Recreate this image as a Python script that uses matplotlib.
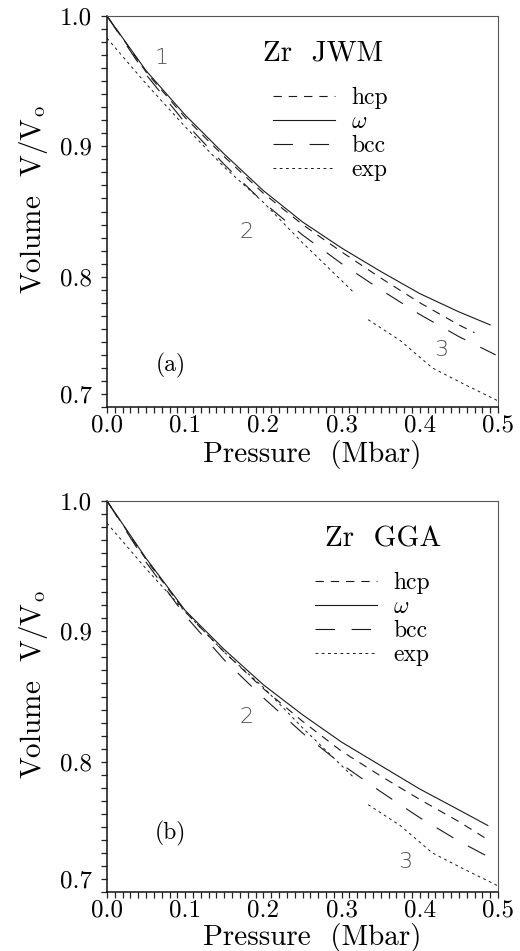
import numpy as np
import matplotlib
matplotlib.use('Agg')
import matplotlib.pyplot as plt

plt.rcParams['font.family'] = 'serif'
plt.rcParams['font.serif'] = ['cmr10', 'DejaVu Serif']
plt.rcParams['mathtext.fontset'] = 'cm'
plt.rcParams['axes.formatter.use_mathtext'] = True
plt.rcParams['lines.scale_dashes'] = False

# --- data (pressure in Mbar, V/V0) ---
# panel (a): JWM
p_omega_a = [0, 0.05, 0.1, 0.15, 0.2, 0.25, 0.3, 0.35, 0.4, 0.45, 0.49]
v_omega_a = [1.0, 0.958, 0.924, 0.894, 0.866, 0.842, 0.822, 0.804, 0.787, 0.773, 0.763]
p_hcp_a = [0, 0.05, 0.1, 0.15, 0.2, 0.25, 0.3, 0.35, 0.4, 0.45, 0.47]
v_hcp_a = [1.0, 0.957, 0.922, 0.892, 0.864, 0.840, 0.819, 0.799, 0.780, 0.763, 0.757]
p_bcc_a = [0, 0.05, 0.1, 0.15, 0.2, 0.25, 0.3, 0.35, 0.4, 0.45, 0.497]
v_bcc_a = [1.0, 0.955, 0.918, 0.886, 0.857, 0.832, 0.810, 0.790, 0.771, 0.754, 0.740]

# panel (b): GGA
p_omega_b = [0, 0.05, 0.1, 0.15, 0.2, 0.25, 0.3, 0.35, 0.4, 0.45, 0.487]
v_omega_b = [1.0, 0.956, 0.916, 0.886, 0.859, 0.836, 0.815, 0.797, 0.779, 0.763, 0.751]
p_hcp_b = [0, 0.05, 0.1, 0.15, 0.2, 0.25, 0.3, 0.35, 0.4, 0.45, 0.49]
v_hcp_b = [1.0, 0.955, 0.915, 0.884, 0.856, 0.831, 0.808, 0.789, 0.771, 0.754, 0.739]
p_bcc_b = [0, 0.05, 0.1, 0.15, 0.2, 0.25, 0.3, 0.35, 0.4, 0.45, 0.497]
v_bcc_b = [1.0, 0.953, 0.912, 0.878, 0.849, 0.822, 0.798, 0.777, 0.757, 0.739, 0.724]

# experiment (same in both panels), two separate data sets
p_exp_lo = [0, 0.05, 0.1, 0.15, 0.2, 0.25, 0.3, 0.317]
v_exp_lo = [0.983, 0.948, 0.915, 0.884, 0.857, 0.826, 0.797, 0.787]
p_exp_hi = [0.334, 0.375, 0.416, 0.455, 0.499]
v_exp_hi = [0.767, 0.751, 0.730, 0.718, 0.705]

panels = [
    dict(tag='(a)', title='Zr  JWM', title_xy=(0.552, 0.905), leg_xy=(0.425, 0.818),
         omega=(p_omega_a, v_omega_a), hcp=(p_hcp_a, v_hcp_a), bcc=(p_bcc_a, v_bcc_a),
         marks=[('1', 0.070, 0.968), ('2', 0.179, 0.834), ('3', 0.428, 0.744)],
         tag_xy=(0.081, 0.732), bottom=1 - 407 / 951, xlab_y=-0.085),
    dict(tag='(b)', title='Zr  GGA', title_xy=(0.706, 0.903), leg_xy=(0.533, 0.818),
         omega=(p_omega_b, v_omega_b), hcp=(p_hcp_b, v_hcp_b), bcc=(p_bcc_b, v_bcc_b),
         marks=[('2', 0.179, 0.834), ('3', 0.381, 0.723)],
         tag_xy=(0.081, 0.745), bottom=1 - 892 / 951, xlab_y=-0.079),
]

fig = plt.figure(figsize=(5.2, 9.51), dpi=100)
lc = '#1a1a1a'

for pn in panels:
    ax = fig.add_axes([107 / 520, pn['bottom'], 391 / 520, 391 / 951])
    l_hcp, = ax.plot(*pn['hcp'], color=lc, lw=0.8, dashes=(6, 5), label='hcp')
    l_om, = ax.plot(*pn['omega'], color=lc, lw=0.8, label=r'$\omega$')
    l_bcc, = ax.plot(*pn['bcc'], color=lc, lw=0.8, dashes=(14, 12), label='bcc')
    l_exp, = ax.plot(p_exp_lo, v_exp_lo, color=lc, lw=0.7, dashes=(2, 2.5), label='exp')
    ax.plot(p_exp_hi, v_exp_hi, color=lc, lw=0.7, dashes=(2, 2.5))

    ax.set_xlim(0, 0.5)
    ax.set_ylim(0.7, 1.0)
    ax.set_xticks(np.arange(0, 0.51, 0.1))
    ax.set_xticks(np.arange(0, 0.5, 0.01), minor=True)
    ax.set_yticks([0.7, 0.8, 0.9, 1.0])
    ax.set_yticks(np.arange(0.7, 1.0, 0.01), minor=True)
    ax.set_xticklabels(['0.0', '0.1', '0.2', '0.3', '0.4', '0.5'])
    ax.set_yticklabels(['0.7', '0.8', '0.9', '1.0'])
    ax.tick_params(which='both', direction='out', top=False, right=False,
                   length=4, width=0.9, color='#222')
    ax.tick_params(axis='y', labelsize=18, pad=7)
    ax.tick_params(axis='x', labelsize=18, pad=1)
    ax.get_yticklabels()[0].set_va('bottom')

    for s in ['left', 'bottom']:
        ax.spines[s].set_linewidth(1.1)
        ax.spines[s].set_color('#111')
    for s in ['top', 'right']:
        ax.spines[s].set_linewidth(0.8)
        ax.spines[s].set_color('#555')

    ax.set_xlabel('Pressure  (Mbar)', fontsize=21)
    ax.xaxis.set_label_coords(0.525, pn['xlab_y'])
    ax.set_ylabel(r'Volume  V/V$_{\rm o}$', fontsize=21)
    ax.yaxis.set_label_coords(-0.145, 0.53)

    ax.text(*pn['title_xy'], pn['title'], transform=ax.transAxes, fontsize=21,
            ha='center', va='center')
    ax.text(*pn['tag_xy'], pn['tag'], fontsize=17, ha='center', va='center')
    for lab, x, y in pn['marks']:
        ax.text(x, y, lab, fontsize=16, family='DejaVu Sans', fontweight='light',
                color='#555', ha='center', va='center')

    ax.legend(handles=[l_hcp, l_om, l_bcc, l_exp], loc='upper left',
              bbox_to_anchor=pn['leg_xy'], frameon=False, fontsize=17,
              handlelength=2.6, handletextpad=0.7, labelspacing=0.08,
              borderpad=0, borderaxespad=0)

fig.savefig('out.png', dpi=100)
